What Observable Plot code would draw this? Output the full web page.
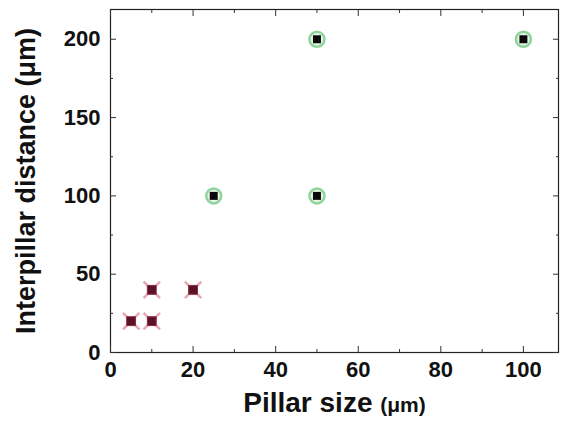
<!DOCTYPE html>
<html><head><meta charset="utf-8">
<script src="https://cdn.jsdelivr.net/npm/d3@7"></script>
<script src="https://cdn.jsdelivr.net/npm/@observablehq/plot@0.6"></script>
<style>body{margin:0;background:#fff;} svg{display:block;font-family:"Liberation Sans",Arial,sans-serif;}</style>
</head><body><div id="chart"></div>
<script>
const redX = [5, 10, 10, 20];
const redY = [20, 20, 40, 40];
const greenX = [25, 50, 50, 100];
const greenY = [100, 100, 200, 200];
const xTicks = [0, 20, 40, 60, 80, 100];
const xMinor = [10, 30, 50, 70, 90];
const yTicks = [0, 50, 100, 150, 200];
const yMinor = [25, 75, 125, 175];
const xLabel = "Pillar size";
const xUnit = "(μm)";
const yLabel = "Interpillar distance (μm)";

const red = redX.map((x, i) => ({x, y: redY[i]}));
const green = greenX.map((x, i) => ({x, y: greenY[i]}));
const blank = () => "";

const plot = Plot.plot({
  width: 561, height: 425,
  marginLeft: 110, marginRight: 3, marginTop: 9, marginBottom: 73,
  style: {fontFamily: "Liberation Sans, Arial, sans-serif", background: "#fff"},
  x: {domain: [0, 108.5]},
  y: {domain: [0, 219]},
  marks: [
    Plot.frame({stroke: "#222", strokeWidth: 1.2}),
    Plot.axisX(xTicks, {anchor: "bottom", tickSize: 0, tickPadding: 9, fontSize: 22, fontWeight: "bold", fill: "#111", label: null}),
    Plot.axisY(yTicks, {anchor: "left", tickSize: 0, tickPadding: 10, fontSize: 22, fontWeight: "bold", fill: "#111", label: null}),
    Plot.axisX(xTicks, {anchor: "bottom", tickSize: -6, tickFormat: blank, label: null, stroke: "#333"}),
    Plot.axisX(xMinor, {anchor: "bottom", tickSize: -3, tickFormat: blank, label: null, stroke: "#333"}),
    Plot.axisX(xTicks, {anchor: "top", tickSize: -6, tickFormat: blank, label: null, stroke: "#333"}),
    Plot.axisX(xMinor, {anchor: "top", tickSize: -3, tickFormat: blank, label: null, stroke: "#333"}),
    Plot.axisY(yTicks, {anchor: "left", tickSize: -6, tickFormat: blank, label: null, stroke: "#333"}),
    Plot.axisY(yMinor, {anchor: "left", tickSize: -3, tickFormat: blank, label: null, stroke: "#333"}),
    Plot.axisY(yTicks, {anchor: "right", tickSize: -6, tickFormat: blank, label: null, stroke: "#333"}),
    Plot.axisY(yMinor, {anchor: "right", tickSize: -3, tickFormat: blank, label: null, stroke: "#333"}),
    Plot.dot(red, {x: "x", y: "y", symbol: "times", r: 7.5, stroke: "#e6a8b4", strokeWidth: 2.5}),
    Plot.dot(red, {x: "x", y: "y", symbol: "square", r: 5, fill: "#5c1226", stroke: "#8a2a3e", strokeWidth: 1}),
    Plot.dot(green, {x: "x", y: "y", symbol: "circle", r: 7.5, fill: "#e8f5e8", stroke: "#8fd49a", strokeWidth: 2.5}),
    Plot.dot(green, {x: "x", y: "y", symbol: "square", r: 4.5, fill: "#0a0a0a"}),
    Plot.text([xLabel], {frameAnchor: "bottom", dy: 59, text: d => d, fontSize: 28, fontWeight: "bold", fill: "#111", className: "xlab"}),
    Plot.text([yLabel], {frameAnchor: "left", dx: -84, rotate: -90, textAnchor: "middle", text: d => d, fontSize: 27, fontWeight: "bold", fill: "#111"})
  ]
});
document.getElementById("chart").appendChild(plot);
// append smaller unit to x label
const t = d3.select(plot).select("g.xlab text");
if (!t.empty()) {
  const main = t.text();
  t.text(null);
  t.append("tspan").text(main + " ");
  t.append("tspan").attr("font-size", 21).text(xUnit);
}
</script></body></html>
